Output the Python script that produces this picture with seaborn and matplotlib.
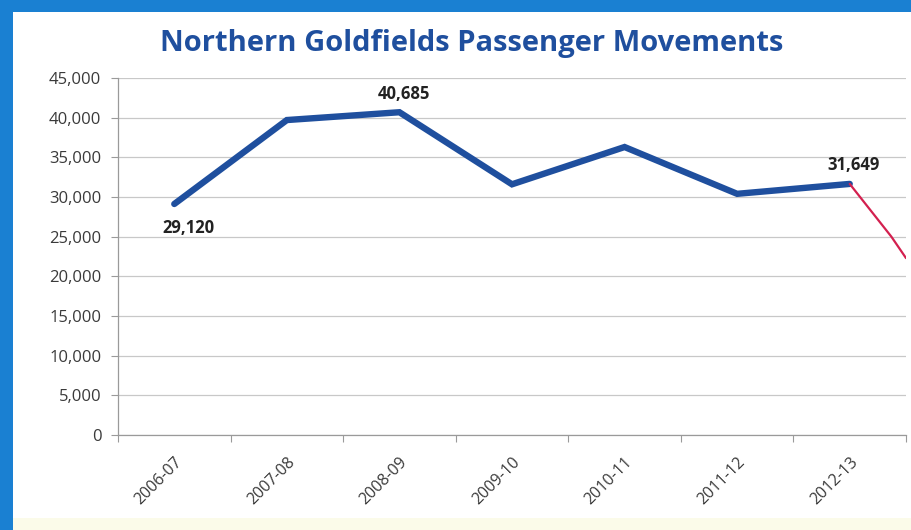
import numpy as np
import matplotlib
matplotlib.use("Agg")
import matplotlib.pyplot as plt
from matplotlib.patches import Rectangle
from matplotlib.ticker import FuncFormatter, FixedLocator
import seaborn as sns

# Passenger movements by financial year
seasons = ["2006-07", "2007-08", "2008-09", "2009-10", "2010-11", "2011-12", "2012-13"]
passengers = [29120, 39700, 40685, 31600, 36300, 30400, 31649]

# Values that carry a printed label, and where the label sits relative to the point
labelled = {"2006-07": "below", "2008-09": "above", "2012-13": "above"}

# Hand-drawn downward trend stroke after the last year (position, passengers)
trend_pos = [6.0, 6.37, 6.5]
trend_vals = [31649, 25000, 22300]

y_ticks = list(range(0, 45001, 5000))

sns.set_theme(style="white")
plt.rcParams["font.family"] = ["Open Sans", "DejaVu Sans"]

fig = plt.figure(figsize=(9.12, 5.30), dpi=100)
fig.patch.set_facecolor("white")

# Frame around the slide
fig.add_artist(Rectangle((0, 1 - 12 / 530), 1, 12 / 530, transform=fig.transFigure,
                         facecolor="#1a80d2", edgecolor="none", zorder=0))
fig.add_artist(Rectangle((0, 0), 13 / 912, 1, transform=fig.transFigure,
                         facecolor="#1a80d2", edgecolor="none", zorder=0))
fig.add_artist(Rectangle((13 / 912, 0), 1, 12 / 530, transform=fig.transFigure,
                         facecolor="#fbfbe9", edgecolor="none", zorder=0))

ax = fig.add_axes([118 / 912, (530 - 435) / 530, 788 / 912, 357 / 530])
ax.set_facecolor("none")

x = np.arange(len(seasons))
sns.lineplot(x=x, y=passengers, ax=ax, color="#1f4f9e", linewidth=4.6,
             solid_capstyle="round", solid_joinstyle="miter", zorder=3)
sns.lineplot(x=trend_pos, y=trend_vals, ax=ax, sort=False, color="#d3204f",
             linewidth=1.6, zorder=4)

ax.set_xlim(-0.5, len(seasons) - 0.5)
ax.set_ylim(0, 45000)

ax.yaxis.set_major_locator(FixedLocator(y_ticks))
ax.yaxis.set_major_formatter(FuncFormatter(lambda v, p: f"{int(v):,}"))
ax.grid(axis="y", color="#c8c8c8", linewidth=0.9)
ax.tick_params(axis="y", which="major", length=5, width=0.8, color="#9a9a9a",
               labelsize=12, labelcolor="#3a3a3a", pad=7, left=True)

ax.set_xticks(x)
ax.set_xticklabels(seasons, rotation=45, ha="right", rotation_mode="anchor",
                   fontsize=11.5, color="#3a3a3a")
ax.set_xticks(np.arange(-0.5, len(seasons)), minor=True)
ax.tick_params(axis="x", which="major", length=0, pad=14)
ax.tick_params(axis="x", which="minor", length=5, width=0.8, color="#9a9a9a", bottom=True)

for side in ("top", "right"):
    ax.spines[side].set_visible(False)
for side in ("left", "bottom"):
    ax.spines[side].set_color("#9a9a9a")
    ax.spines[side].set_linewidth(0.9)

for i, (s, v) in enumerate(zip(seasons, passengers)):
    if s in labelled:
        if labelled[s] == "above":
            ax.annotate(f"{v:,}", (i, v), xytext=(3, 7), textcoords="offset points",
                        ha="center", va="bottom", fontsize=12, fontweight="bold",
                        color="#222222")
        else:
            ax.annotate(f"{v:,}", (i, v), xytext=(10, -11), textcoords="offset points",
                        ha="center", va="top", fontsize=12, fontweight="bold",
                        color="#222222")

fig.text(472 / 912, 1 - 44 / 530, "Northern Goldfields Passenger Movements",
         ha="center", va="center", fontsize=21, fontweight="bold", color="#1f4f9e")

fig.savefig("out.png", dpi=100)
